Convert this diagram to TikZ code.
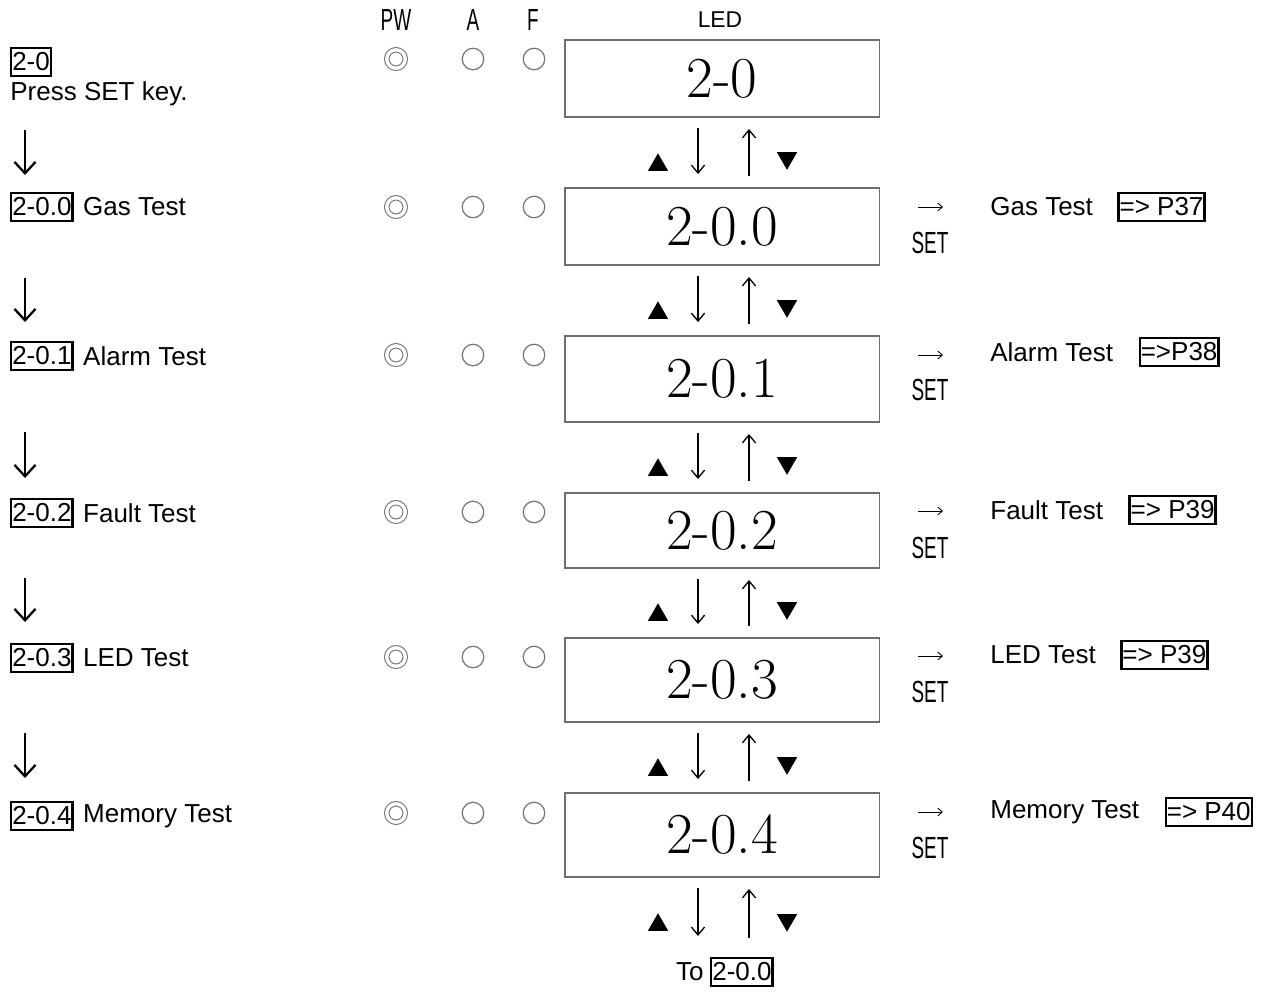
\documentclass[tikz,border=0pt]{standalone}
\usepackage{fontspec}
\usepackage{tikz}
\usetikzlibrary{arrows.meta,positioning,shapes,calc}
\newfontfamily\labelfont{Liberation Sans}
\newfontfamily\narrowfont{Liberation Sans}[FakeStretch=0.62]
\definecolor{ink}{HTML}{000000}
\definecolor{ledgray}{HTML}{6E6E6E}
\definecolor{lampgray}{HTML}{747474}
\tikzset{
  ledbox/.style={draw=ledgray,line width=1.1pt,minimum width=6.3cm,
                 inner sep=0pt,font=\fontsize{33}{36}\selectfont},
  codebox/.style={draw=ink,line width=1.4pt,inner xsep=0.6pt,inner ysep=2.6pt,
                  font=\labelfont\fontsize{14.8}{17}\selectfont},
  lbl/.style={inner sep=0pt,font=\labelfont\fontsize{14.8}{17}\selectfont},
  narrow/.style={inner sep=0pt,font=\narrowfont\fontsize{17.4}{20}\selectfont},
  pwlamp/.style={circle,draw=lampgray,line width=0.6pt,double,
                 double distance=1.9pt,minimum size=0.37cm,inner sep=0pt},
  lamp/.style={circle,draw=lampgray,line width=0.7pt,minimum size=0.43cm,
               inner sep=0pt},
  leftarr/.style={-{Straight Barb[length=6.5pt,width=12pt]},line width=1.3pt,
                  draw=ink},
  keyarr/.style={-{Straight Barb[length=4.5pt,width=7.5pt]},line width=0.75pt,
                 draw=ink},
  setarr/.style={-{Straight Barb[length=2.6pt,width=4.5pt]},line width=0.5pt,
                 draw=ink},
  uptri/.style={regular polygon,regular polygon sides=3,fill=ink,draw=none,
                inner sep=0pt,minimum size=0.47cm},
  downtri/.style={uptri,shape border rotate=180}
}
\begin{document}
\begin{tikzpicture}[x=0.02cm,y=-0.02cm]
    \path[use as bounding box] (0,0) rectangle (1271,992);

    % header
    \node[narrow] (pwhead) at (396,20) {PW};
    \node[narrow] (ahead) at (473,20) {A};
    \node[narrow] (fhead) at (533,20) {F};
    \node[lbl,font=\labelfont\fontsize{13}{15}\selectfont] (ledhead) at (720,20) {LED};

    % row 2-0
    \node[codebox,anchor=west] (code0) at (10,62) {2-0};
    \node[lbl,anchor=west] (press) at (10,94) {Press SET key.};
    \node[pwlamp] (pw0) at (396,59) {};
    \node[lamp] (a0) at (473,59) {};
    \node[lamp] (f0) at (534,59) {};
    \node[ledbox,minimum height=1.54cm] (led0) at (722,78.5) {2-0};

    % row 2-0.0
    \node[codebox,anchor=west] (code1) at (10,207) {2-0.0};
    \node[lbl,right=0.18cm of code1] (name1) {Gas Test};
    \node[pwlamp] (pw1) at (396,207) {};
    \node[lamp] (a1) at (473,207) {};
    \node[lamp] (f1) at (534,207) {};
    \node[ledbox,minimum height=1.54cm] (led1) at (722,226.5) {2-0.0};
    \node[lbl,anchor=west] (test1) at (990,207) {Gas Test};
    \node[codebox,right=0.48cm of test1] (page1) {=> P37};
    \node[narrow] (set1) at ($(test1.west)+(-60,36)$) {SET};

    % row 2-0.1
    \node[codebox,anchor=west] (code2) at (10,356) {2-0.1};
    \node[lbl,right=0.18cm of code2] (name2) {Alarm Test};
    \node[pwlamp] (pw2) at (396,355) {};
    \node[lamp] (a2) at (473,355) {};
    \node[lamp] (f2) at (534,355) {};
    \node[ledbox,minimum height=1.72cm] (led2) at (722,379) {2-0.1};
    \node[lbl,anchor=west] (test2) at (990,352) {Alarm Test};
    \node[codebox,right=0.5cm of test2] (page2) {=>P38};
    \node[narrow] (set2) at ($(test2.west)+(-60,38)$) {SET};

    % row 2-0.2
    \node[codebox,anchor=west] (code3) at (10,513) {2-0.2};
    \node[lbl,right=0.18cm of code3] (name3) {Fault Test};
    \node[pwlamp] (pw3) at (396,512) {};
    \node[lamp] (a3) at (473,512) {};
    \node[lamp] (f3) at (534,512) {};
    \node[ledbox,minimum height=1.5cm] (led3) at (722,530.5) {2-0.2};
    \node[lbl,anchor=west] (test3) at (990,510) {Fault Test};
    \node[codebox,right=0.5cm of test3] (page3) {=> P39};
    \node[narrow] (set3) at ($(test3.west)+(-60,38)$) {SET};

    % row 2-0.3
    \node[codebox,anchor=west] (code4) at (10,658) {2-0.3};
    \node[lbl,right=0.18cm of code4] (name4) {LED Test};
    \node[pwlamp] (pw4) at (396,657) {};
    \node[lamp] (a4) at (473,657) {};
    \node[lamp] (f4) at (534,657) {};
    \node[ledbox,minimum height=1.68cm] (led4) at (722,680) {2-0.3};
    \node[lbl,anchor=west] (test4) at (990,655) {LED Test};
    \node[codebox,right=0.48cm of test4] (page4) {=> P39};
    \node[narrow] (set4) at ($(test4.west)+(-60,37)$) {SET};

    % row 2-0.4
    \node[codebox,anchor=west] (code5) at (10,816) {2-0.4};
    \node[lbl,right=0.18cm of code5] (name5) {Memory Test};
    \node[pwlamp] (pw5) at (396,813) {};
    \node[lamp] (a5) at (473,813) {};
    \node[lamp] (f5) at (534,813) {};
    \node[ledbox,minimum height=1.68cm] (led5) at (722,835) {2-0.4};
    \node[lbl,anchor=west] (test5) at (990,812) {Memory Test};
    \node[codebox,right=0.5cm of test5] (page5) {=> P40};
    \node[narrow] (set5) at ($(test5.west)+(-60,36)$) {SET};

    \node[lbl,anchor=east] (tolbl) at (704,972) {To};
    \node[codebox,anchor=west] (tocode) at (710,972) {2-0.0};

    % left flow
    \draw[leftarr] ($(code1.west)+(15,-77)$) -- ($(code1.west)+(15,-32)$);
    \draw[leftarr] ($(code2.west)+(15,-78)$) -- ($(code2.west)+(15,-34)$);
    \draw[leftarr] ($(code3.west)+(15,-81)$) -- ($(code3.west)+(15,-35)$);
    \draw[leftarr] ($(code4.west)+(15,-80)$) -- ($(code4.west)+(15,-36)$);
    \draw[leftarr] ($(code5.west)+(15,-83)$) -- ($(code5.west)+(15,-38)$);

    % up / down keys
    \draw[keyarr] ($(led0.south)+(-24,10)$) -- ($(led1.north)+(-24,-13)$);
    \draw[keyarr] ($(led1.north)+(27,-11)$) -- ($(led0.south)+(27,11)$);
    \node[uptri] (up0) at ($(led1.north)+(-64,-22)$) {};
    \node[downtri] (dn0) at ($(led1.north)+(65,-29)$) {};

    \draw[keyarr] ($(led1.south)+(-24,10)$) -- ($(led2.north)+(-24,-13)$);
    \draw[keyarr] ($(led2.north)+(27,-11)$) -- ($(led1.south)+(27,11)$);
    \node[uptri] (up1) at ($(led2.north)+(-64,-22)$) {};
    \node[downtri] (dn1) at ($(led2.north)+(65,-29)$) {};

    \draw[keyarr] ($(led2.south)+(-24,10)$) -- ($(led3.north)+(-24,-13)$);
    \draw[keyarr] ($(led3.north)+(27,-11)$) -- ($(led2.south)+(27,11)$);
    \node[uptri] (up2) at ($(led3.north)+(-64,-22)$) {};
    \node[downtri] (dn2) at ($(led3.north)+(65,-29)$) {};

    \draw[keyarr] ($(led3.south)+(-24,10)$) -- ($(led4.north)+(-24,-13)$);
    \draw[keyarr] ($(led4.north)+(27,-11)$) -- ($(led3.south)+(27,11)$);
    \node[uptri] (up3) at ($(led4.north)+(-64,-22)$) {};
    \node[downtri] (dn3) at ($(led4.north)+(65,-29)$) {};

    \draw[keyarr] ($(led4.south)+(-24,10)$) -- ($(led5.north)+(-24,-13)$);
    \draw[keyarr] ($(led5.north)+(27,-11)$) -- ($(led4.south)+(27,11)$);
    \node[uptri] (up4) at ($(led5.north)+(-64,-22)$) {};
    \node[downtri] (dn4) at ($(led5.north)+(65,-29)$) {};

    \draw[keyarr] ($(led5.south)+(-24,10)$) -- ($(led5.south)+(-24,58)$);
    \draw[keyarr] ($(led5.south)+(27,60)$) -- ($(led5.south)+(27,11)$);
    \node[uptri] (up5) at ($(led5.south)+(-64,47)$) {};
    \node[downtri] (dn5) at ($(led5.south)+(65,42)$) {};

    % SET arrows
    \draw[setarr] ($(test1.west)+(-72,0)$) -- ($(test1.west)+(-47,0)$);
    \draw[setarr] ($(test2.west)+(-72,3)$) -- ($(test2.west)+(-47,3)$);
    \draw[setarr] ($(test3.west)+(-72,1)$) -- ($(test3.west)+(-47,1)$);
    \draw[setarr] ($(test4.west)+(-72,1)$) -- ($(test4.west)+(-47,1)$);
    \draw[setarr] ($(test5.west)+(-72,0)$) -- ($(test5.west)+(-47,0)$);
  \end{tikzpicture}
\end{document}
